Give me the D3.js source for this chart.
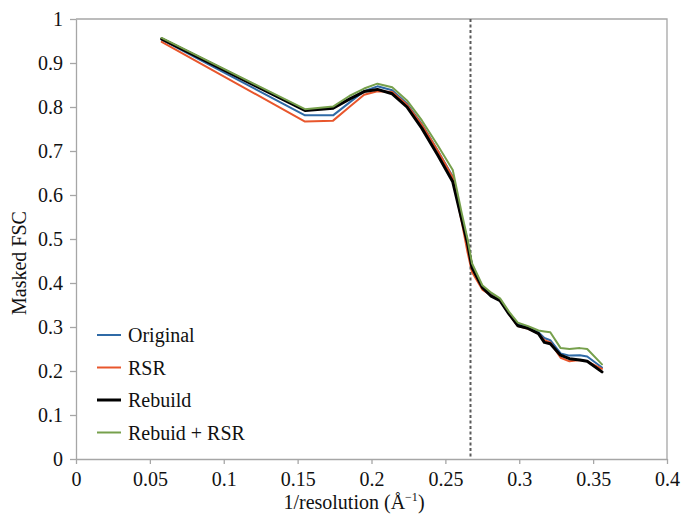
<!DOCTYPE html>
<html>
<head>
<meta charset="utf-8">
<script src="https://cdn.jsdelivr.net/npm/d3@7"></script>
<style>
  html, body { margin: 0; padding: 0; background: #fff; }
  svg { display: block; font-family: "Liberation Serif", "Times New Roman", serif; }
</style>
</head>
<body>
<svg id="chart" width="682" height="516"></svg>
<script>
// Spatial frequency (1/resolution, Å^-1) at which the FSC curves were sampled
const resolutionX = [0.058, 0.155, 0.174, 0.185, 0.195, 0.204, 0.214, 0.224, 0.234, 0.245,
  0.255, 0.261, 0.265, 0.268, 0.275, 0.281, 0.287, 0.293, 0.299, 0.306,
  0.313, 0.317, 0.321, 0.328, 0.334, 0.341, 0.346, 0.356];

// Masked FSC values for each refinement strategy
const originalFSC = [0.953, 0.781, 0.781, 0.810, 0.836, 0.847, 0.838, 0.808, 0.762, 0.700,
  0.642, 0.550, 0.495, 0.440, 0.392, 0.375, 0.362, 0.332, 0.306, 0.300,
  0.288, 0.275, 0.270, 0.240, 0.235, 0.236, 0.233, 0.208];
const rsrFSC = [0.948, 0.767, 0.769, 0.800, 0.828, 0.836, 0.834, 0.805, 0.760, 0.700,
  0.640, 0.540, 0.470, 0.425, 0.385, 0.372, 0.360, 0.330, 0.302, 0.296,
  0.285, 0.270, 0.265, 0.230, 0.222, 0.225, 0.222, 0.205];
const rebuildFSC = [0.955, 0.792, 0.797, 0.818, 0.835, 0.840, 0.830, 0.800, 0.752, 0.690,
  0.630, 0.545, 0.490, 0.435, 0.390, 0.370, 0.360, 0.330, 0.303, 0.297,
  0.285, 0.265, 0.262, 0.236, 0.228, 0.225, 0.222, 0.198];
const rebuildRsrFSC = [0.957, 0.795, 0.801, 0.825, 0.842, 0.853, 0.845, 0.815, 0.770, 0.712,
  0.657, 0.560, 0.500, 0.445, 0.395, 0.378, 0.365, 0.335, 0.310, 0.302,
  0.292, 0.290, 0.288, 0.252, 0.250, 0.252, 0.250, 0.215];

const seriesNames = ["Original", "RSR", "Rebuild", "Rebuid + RSR"];
const seriesValues = [originalFSC, rsrFSC, rebuildFSC, rebuildRsrFSC];
const seriesColors = ["#2f6aa6", "#e8562c", "#000000", "#76a04c"];
const seriesWidths = [2, 2, 3, 2];

// Resolution cut-off marked by the dashed line
const cutoffX = 0.267;

const xTicks = [0, 0.05, 0.1, 0.15, 0.2, 0.25, 0.3, 0.35, 0.4];
const yTicks = [0, 0.1, 0.2, 0.3, 0.4, 0.5, 0.6, 0.7, 0.8, 0.9, 1];

const svg = d3.select("#chart");
const plot = { left: 76, right: 667, top: 19, bottom: 459 };

const x = d3.scaleLinear().domain([0, 0.4]).range([plot.left, plot.right]);
const y = d3.scaleLinear().domain([0, 1]).range([plot.bottom, plot.top]);

const axisColor = "#a6a6a6";
const fmt = d => d === 0 ? "0" : d === 1 ? "1" : String(+d.toFixed(2));

// Plot area border (top and right)
svg.append("path")
  .attr("d", `M${plot.left},${plot.top}H${plot.right}V${plot.bottom}`)
  .attr("fill", "none").attr("stroke", axisColor).attr("stroke-width", 1.3);

// X axis
const xAxis = svg.append("g")
  .attr("transform", `translate(0,${plot.bottom})`)
  .call(d3.axisBottom(x).tickValues(xTicks).tickFormat(fmt).tickSizeInner(5).tickSizeOuter(0).tickPadding(8));
xAxis.select(".domain").attr("stroke", axisColor).attr("stroke-width", 1.3);
xAxis.selectAll(".tick line").attr("stroke", axisColor).attr("stroke-width", 1.3);
xAxis.selectAll(".tick text").attr("font-size", 20).attr("fill", "#111")
  .attr("font-family", "Liberation Serif, serif");

// Y axis
const yAxis = svg.append("g")
  .attr("transform", `translate(${plot.left},0)`)
  .call(d3.axisLeft(y).tickValues(yTicks).tickFormat(fmt).tickSizeInner(6).tickSizeOuter(0).tickPadding(7));
yAxis.select(".domain").attr("stroke", axisColor).attr("stroke-width", 1.3);
yAxis.selectAll(".tick line").attr("stroke", axisColor).attr("stroke-width", 1.3);
yAxis.selectAll(".tick text").attr("font-size", 20).attr("fill", "#111")
  .attr("font-family", "Liberation Serif, serif");

// Cut-off marker
svg.append("line")
  .attr("x1", x(cutoffX)).attr("x2", x(cutoffX))
  .attr("y1", y(1)).attr("y2", y(0))
  .attr("stroke", "#5a5a5a").attr("stroke-width", 2)
  .attr("stroke-dasharray", "3,2.5");

// FSC curves
const line = d3.line()
  .x((d, i) => x(resolutionX[i]))
  .y(d => y(d));

svg.append("g").selectAll("path")
  .data(seriesValues)
  .join("path")
  .attr("d", d => line(d))
  .attr("fill", "none")
  .attr("stroke", (d, i) => seriesColors[i])
  .attr("stroke-width", (d, i) => seriesWidths[i])
  .attr("stroke-linejoin", "round")
  .attr("stroke-linecap", "round");

// Legend
const legend = svg.append("g").attr("transform", "translate(97,335)");
const item = legend.selectAll("g")
  .data(seriesNames)
  .join("g")
  .attr("transform", (d, i) => `translate(0,${i * 32.5})`);
item.append("line")
  .attr("x1", 0).attr("x2", 24).attr("y1", 0).attr("y2", 0)
  .attr("stroke", (d, i) => seriesColors[i])
  .attr("stroke-width", (d, i) => seriesWidths[i]);
item.append("text")
  .attr("x", 31).attr("y", 0).attr("dy", "0.35em")
  .attr("font-size", 20).attr("fill", "#111")
  .text(d => d);

// Axis titles
svg.append("text")
  .attr("x", 354).attr("y", 509)
  .attr("text-anchor", "middle").attr("font-size", 20).attr("fill", "#111")
  .call(t => {
    t.append("tspan").text("1/resolution (Å");
    t.append("tspan").attr("font-size", 12).attr("dy", -8).text("−1");
    t.append("tspan").attr("dy", 8).text(")");
  });

svg.append("text")
  .attr("transform", "translate(26,263) rotate(-90)")
  .attr("text-anchor", "middle").attr("font-size", 20).attr("fill", "#111")
  .text("Masked FSC");
</script>
</body>
</html>
